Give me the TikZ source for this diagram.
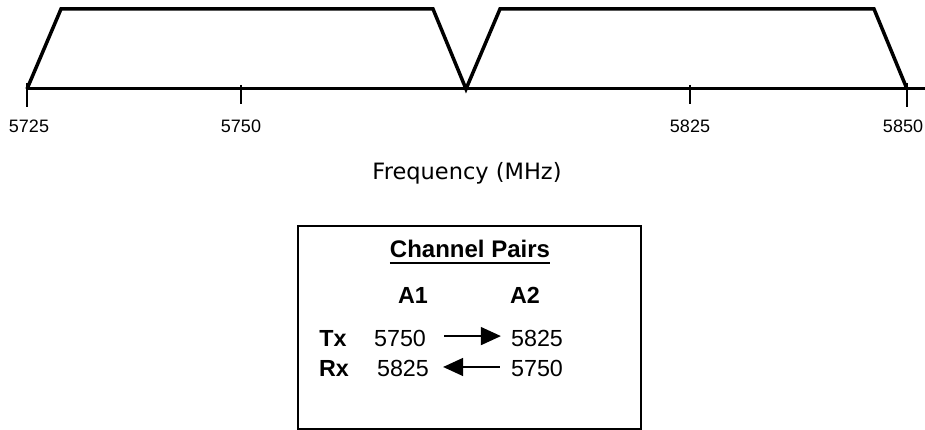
\documentclass[tikz,border=0pt]{standalone}
\usepackage{fontspec}
\setmainfont{Liberation Sans}
\newfontfamily\freqfont{DejaVu Sans}
\usetikzlibrary{arrows.meta}
\tikzset{
  band/.style={line width=3.5pt, line join=miter},
  axisline/.style={line width=3pt},
  tickline/.style={line width=1.5pt},
  axlabel/.style={anchor=base, inner sep=0pt, font=\fontsize{18}{20}\selectfont},
  boxtxt/.style={anchor=base, inner sep=0pt, font=\fontsize{23.3}{25}\selectfont},
  boxbold/.style={anchor=base, inner sep=0pt, font=\fontsize{23.3}{25}\selectfont\bfseries},
  pairarrow/.style={line width=1.5pt, -{Triangle[length=20pt,width=18pt]}},
}
\begin{document}
\begin{tikzpicture}[x=1pt,y=-1pt]
\useasboundingbox (0,0) rectangle (925,430);
% axis
\coordinate (a0) at (27,89);
\coordinate (aend) at (925,89);
\draw[axisline] (a0) -- (aend);
% ticks
\coordinate (t1a) at (27,83); \coordinate (t1b) at (27,107);
\coordinate (t2a) at (241,85); \coordinate (t2b) at (241,104);
\coordinate (t3a) at (690,85); \coordinate (t3b) at (690,104);
\coordinate (t4a) at (907,83); \coordinate (t4b) at (907,107);
\draw[tickline] (t1a) -- (t1b);
\draw[tickline] (t2a) -- (t2b);
\draw[tickline] (t3a) -- (t3b);
\draw[tickline] (t4a) -- (t4b);
% bands
\coordinate (b1) at (27,89); \coordinate (b2) at (61,9);
\coordinate (b3) at (433,9); \coordinate (b4) at (466,89);
\coordinate (b5) at (500,9); \coordinate (b6) at (874,9);
\coordinate (b7) at (907,89);
\draw[band] (b1) -- (b2) -- (b3) -- (b4) -- (b5) -- (b6) -- (b7);
% axis labels
\node[axlabel] (l1) at (29,133) {5725};
\node[axlabel] (l2) at (241,133) {5750};
\node[axlabel] (l3) at (690,133) {5825};
\node[axlabel] (l4) at (903,133) {5850};
\node[anchor=base, inner sep=0pt, font=\freqfont\fontsize{22.5}{24}\selectfont] (freq) at (467,180) {Frequency (MHz)};
% box
\coordinate (boxa) at (298,226);
\coordinate (boxb) at (641,429.5);
\draw[line width=2.5pt] (boxa) rectangle (boxb);
\node[boxbold, font=\fontsize{24}{26}\selectfont\bfseries] (title) at (470,257.5) {Channel Pairs};
\draw[line width=2.2pt] ([yshift=-5.5pt]title.base west) -- ([yshift=-5.5pt]title.base east);
\node[boxbold] (a1) at (413,303) {A1};
\node[boxbold] (a2) at (525,303) {A2};
\node[boxbold] (tx) at (333,346.5) {Tx};
\node[boxbold] (rx) at (334,376) {Rx};
\node[boxtxt] (tx1) at (400,346.5) {5750};
\node[boxtxt] (tx2) at (537,346.5) {5825};
\node[boxtxt] (rx1) at (403,376) {5825};
\node[boxtxt] (rx2) at (537,376) {5750};
\draw[pairarrow] ([xshift=18pt,yshift=2.4pt]tx1.east) -- ([xshift=-10pt,yshift=2.4pt]tx2.west);
\draw[pairarrow] ([xshift=-11pt,yshift=1pt]rx2.west) -- ([xshift=14pt,yshift=1pt]rx1.east);
\end{tikzpicture}
\end{document}
